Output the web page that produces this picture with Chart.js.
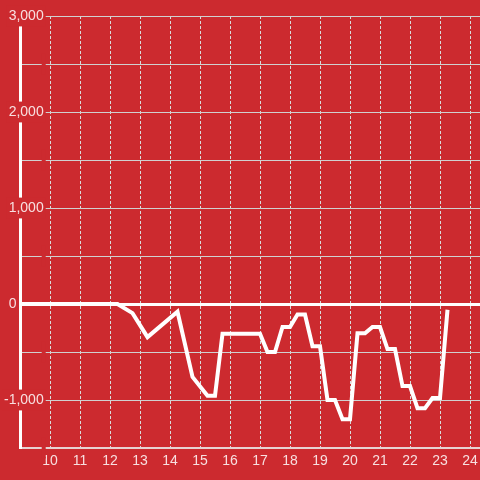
<!DOCTYPE html>
<html>
<head>
<meta charset="utf-8">
<script src="https://cdn.jsdelivr.net/npm/chart.js@4"></script>
<style>
  body { margin: 0; background: #cc2a2f; }
  #wrap { width: 480px; height: 480px; }
</style>
</head>
<body>
<div id="wrap"><canvas id="lineChart" width="480" height="480"></canvas></div>
<script>
// hours of the day (x) and values (y)
const times = [9, 12.25, 12.75, 13.25, 14.25, 14.75, 15.25, 15.5, 15.75, 17.0, 17.25, 17.5, 17.75, 18.0,
    18.25, 18.5, 18.75, 19.0, 19.25, 19.5, 19.75, 20.0, 20.25, 20.5, 20.75, 21.0, 21.25, 21.5,
    21.75, 22.0, 22.25, 22.5, 22.75, 23.0, 23.25];
const values = [0, 0, -95, -345, -80, -760, -955, -955, -310, -310, -500, -500, -240, -240,
    -110, -110, -440, -440, -1000, -1000, -1200, -1200, -305, -305, -240, -240, -470, -470,
    -855, -855, -1085, -1085, -980, -980, -60];

const xTicks = [10, 11, 12, 13, 14, 15, 16, 17, 18, 19, 20, 21, 22, 23, 24];
const yLabelValues = [-1000, 0, 1000, 2000, 3000];

const bgColor = '#cc2a2f';
const textColor = 'rgba(255,255,255,0.85)';

const points = times.map((t, i) => ({ x: t, y: values[i] }));

const ctx = document.getElementById('lineChart').getContext('2d');
new Chart(ctx, {
    type: 'line',
    data: {
        datasets: [{
            data: points,
            borderColor: '#ffffff',
            borderWidth: 4,
            pointRadius: 0,
            tension: 0,
            fill: false
        }]
    },
    options: {
        responsive: false,
        animation: false,
        layout: { padding: { top: 16, right: 0, left: 0, bottom: 0 } },
        plugins: {
            legend: { display: false },
            tooltip: { enabled: false }
        },
        scales: {
            x: {
                type: 'linear',
                min: 9,
                max: 24 + 1 / 3,
                afterBuildTicks: scale => {
                    scale.ticks = xTicks.map(v => ({ value: v }));
                },
                afterFit: scale => {
                    scale.height = 32;
                    scale.paddingRight = 0;
                },
                grid: { color: '#d9dcdc', lineWidth: 1, drawTicks: false },
                border: { display: true, color: '#e6d2d2', width: 2, dash: [3, 2] },
                ticks: {
                    color: textColor,
                    padding: 5,
                    maxRotation: 0,
                    font: { family: 'Liberation Sans', size: 14 }
                }
            },
            y: {
                min: -1500,
                max: 3000,
                afterFit: scale => { scale.width = 20; },
                grid: {
                    drawTicks: false,
                    color: c => c.tick.value === 0 ? '#ffffff' : '#d0d0d0',
                    lineWidth: c => c.tick.value === 0 ? 3 : 1
                },
                border: { display: true, color: '#ffffff', width: 3 },
                ticks: {
                    stepSize: 500,
                    mirror: true,
                    crossAlign: 'far',
                    color: textColor,
                    padding: -16,
                    font: { family: 'Liberation Sans', size: 14 },
                    showLabelBackdrop: c => c.tick.value !== 0,
                    backdropColor: bgColor,
                    backdropPadding: 2,
                    callback: value => {
                        if (!yLabelValues.includes(value)) return '';
                        if (value === 0) return '0' + ' '.repeat(7);
                        return value.toLocaleString('en-US');
                    }
                }
            }
        }
    }
});
</script>
</body>
</html>
